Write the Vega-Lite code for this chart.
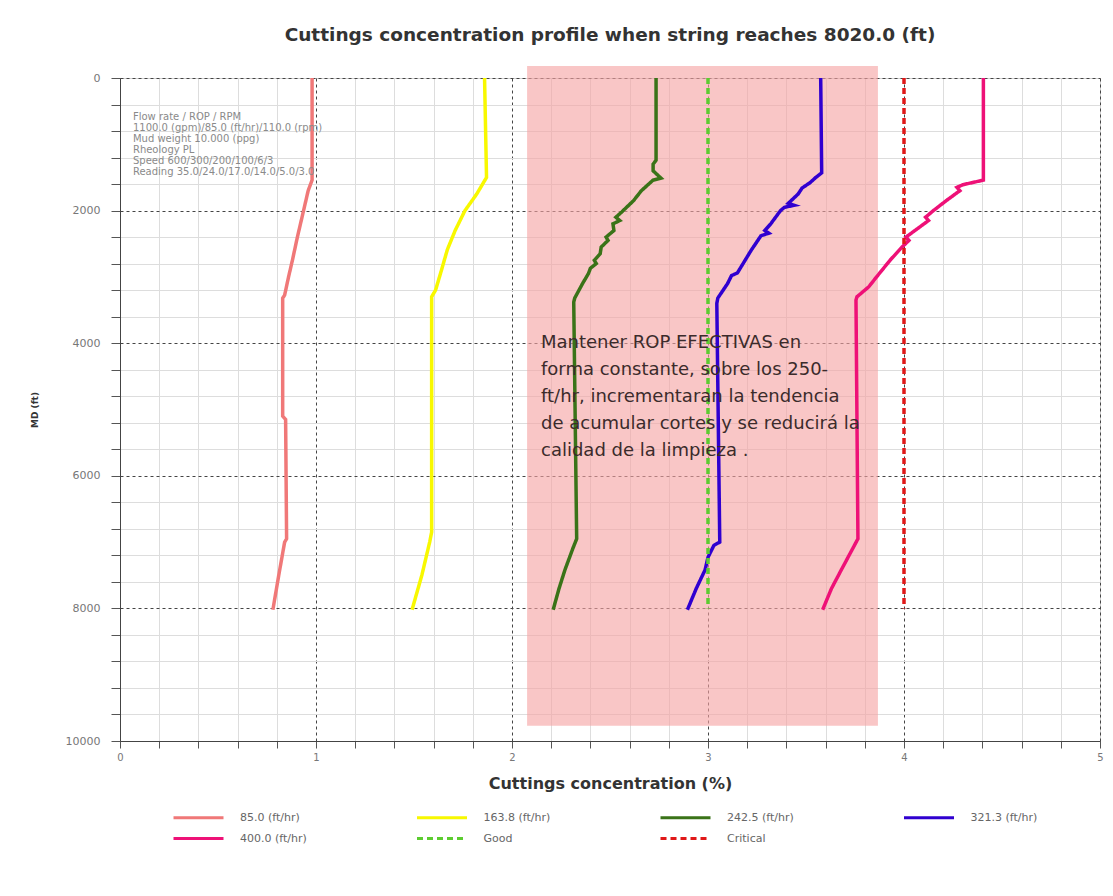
{
  "$schema": "https://vega.github.io/schema/vega-lite/v6.json",
  "autosize": {"type": "none"},
  "padding": {"left": 120, "top": 78, "right": 13, "bottom": 155},
  "width": 980,
  "height": 663,
  "background": "white",
  "title": {"text": "Cuttings concentration profile when string reaches 8020.0 (ft)", "font": "DejaVu Sans", "fontSize": 18.5, "fontWeight": "bold", "color": "#333333", "anchor": "middle", "frame": "group", "offset": 22},
  "config": {
    "view": {"stroke": "#d0d0d0"},
    "legend": {
      "orient": "none", "legendX": 72, "legendY": 733, "columns": 4, "direction": "horizontal",
      "symbolType": "M-5,0H5", "symbolSize": 100, "symbolStrokeWidth": 3,
      "labelFont": "DejaVu Sans", "labelFontSize": 11, "labelColor": "#666666", "labelOffset": 35,
      "columnPadding": 103.5, "rowPadding": 8, "gridAlign": "all", "padding": 0
    }
  },
  "datasets": {
    "curves": [
      {"series": "85.0 (ft/hr)", "md": 0, "c": 0.98},
      {"series": "85.0 (ft/hr)", "md": 1540, "c": 0.98},
      {"series": "85.0 (ft/hr)", "md": 1700, "c": 0.96},
      {"series": "85.0 (ft/hr)", "md": 2020, "c": 0.935},
      {"series": "85.0 (ft/hr)", "md": 2400, "c": 0.905},
      {"series": "85.0 (ft/hr)", "md": 2745, "c": 0.88},
      {"series": "85.0 (ft/hr)", "md": 3000, "c": 0.86},
      {"series": "85.0 (ft/hr)", "md": 3275, "c": 0.84},
      {"series": "85.0 (ft/hr)", "md": 3320, "c": 0.83},
      {"series": "85.0 (ft/hr)", "md": 5100, "c": 0.83},
      {"series": "85.0 (ft/hr)", "md": 5150, "c": 0.845},
      {"series": "85.0 (ft/hr)", "md": 6950, "c": 0.85},
      {"series": "85.0 (ft/hr)", "md": 7000, "c": 0.84},
      {"series": "85.0 (ft/hr)", "md": 7500, "c": 0.81},
      {"series": "85.0 (ft/hr)", "md": 8020, "c": 0.78},

      {"series": "163.8 (ft/hr)", "md": 0, "c": 1.86},
      {"series": "163.8 (ft/hr)", "md": 1500, "c": 1.87},
      {"series": "163.8 (ft/hr)", "md": 1750, "c": 1.82},
      {"series": "163.8 (ft/hr)", "md": 2000, "c": 1.76},
      {"series": "163.8 (ft/hr)", "md": 2300, "c": 1.71},
      {"series": "163.8 (ft/hr)", "md": 2590, "c": 1.67},
      {"series": "163.8 (ft/hr)", "md": 2900, "c": 1.64},
      {"series": "163.8 (ft/hr)", "md": 3200, "c": 1.61},
      {"series": "163.8 (ft/hr)", "md": 3300, "c": 1.59},
      {"series": "163.8 (ft/hr)", "md": 6850, "c": 1.59},
      {"series": "163.8 (ft/hr)", "md": 7000, "c": 1.58},
      {"series": "163.8 (ft/hr)", "md": 7500, "c": 1.54},
      {"series": "163.8 (ft/hr)", "md": 8020, "c": 1.49},

      {"series": "242.5 (ft/hr)", "md": 0, "c": 2.735},
      {"series": "242.5 (ft/hr)", "md": 1240, "c": 2.735},
      {"series": "242.5 (ft/hr)", "md": 1300, "c": 2.72},
      {"series": "242.5 (ft/hr)", "md": 1400, "c": 2.72},
      {"series": "242.5 (ft/hr)", "md": 1510, "c": 2.76},
      {"series": "242.5 (ft/hr)", "md": 1540, "c": 2.72},
      {"series": "242.5 (ft/hr)", "md": 1700, "c": 2.66},
      {"series": "242.5 (ft/hr)", "md": 1850, "c": 2.62},
      {"series": "242.5 (ft/hr)", "md": 2020, "c": 2.56},
      {"series": "242.5 (ft/hr)", "md": 2100, "c": 2.53},
      {"series": "242.5 (ft/hr)", "md": 2150, "c": 2.55},
      {"series": "242.5 (ft/hr)", "md": 2200, "c": 2.515},
      {"series": "242.5 (ft/hr)", "md": 2300, "c": 2.52},
      {"series": "242.5 (ft/hr)", "md": 2400, "c": 2.48},
      {"series": "242.5 (ft/hr)", "md": 2450, "c": 2.49},
      {"series": "242.5 (ft/hr)", "md": 2550, "c": 2.455},
      {"series": "242.5 (ft/hr)", "md": 2650, "c": 2.45},
      {"series": "242.5 (ft/hr)", "md": 2750, "c": 2.42},
      {"series": "242.5 (ft/hr)", "md": 2800, "c": 2.43},
      {"series": "242.5 (ft/hr)", "md": 2870, "c": 2.40},
      {"series": "242.5 (ft/hr)", "md": 2950, "c": 2.39},
      {"series": "242.5 (ft/hr)", "md": 3100, "c": 2.36},
      {"series": "242.5 (ft/hr)", "md": 3320, "c": 2.32},
      {"series": "242.5 (ft/hr)", "md": 3380, "c": 2.315},
      {"series": "242.5 (ft/hr)", "md": 6950, "c": 2.33},
      {"series": "242.5 (ft/hr)", "md": 7100, "c": 2.31},
      {"series": "242.5 (ft/hr)", "md": 7420, "c": 2.27},
      {"series": "242.5 (ft/hr)", "md": 7700, "c": 2.24},
      {"series": "242.5 (ft/hr)", "md": 8020, "c": 2.21},

      {"series": "321.3 (ft/hr)", "md": 0, "c": 3.575},
      {"series": "321.3 (ft/hr)", "md": 1430, "c": 3.58},
      {"series": "321.3 (ft/hr)", "md": 1500, "c": 3.55},
      {"series": "321.3 (ft/hr)", "md": 1580, "c": 3.52},
      {"series": "321.3 (ft/hr)", "md": 1620, "c": 3.50},
      {"series": "321.3 (ft/hr)", "md": 1660, "c": 3.48},
      {"series": "321.3 (ft/hr)", "md": 1750, "c": 3.46},
      {"series": "321.3 (ft/hr)", "md": 1890, "c": 3.41},
      {"series": "321.3 (ft/hr)", "md": 1920, "c": 3.44},
      {"series": "321.3 (ft/hr)", "md": 1950, "c": 3.39},
      {"series": "321.3 (ft/hr)", "md": 2000, "c": 3.37},
      {"series": "321.3 (ft/hr)", "md": 2200, "c": 3.32},
      {"series": "321.3 (ft/hr)", "md": 2300, "c": 3.29},
      {"series": "321.3 (ft/hr)", "md": 2340, "c": 3.31},
      {"series": "321.3 (ft/hr)", "md": 2380, "c": 3.27},
      {"series": "321.3 (ft/hr)", "md": 2600, "c": 3.22},
      {"series": "321.3 (ft/hr)", "md": 2940, "c": 3.15},
      {"series": "321.3 (ft/hr)", "md": 2980, "c": 3.12},
      {"series": "321.3 (ft/hr)", "md": 3100, "c": 3.10},
      {"series": "321.3 (ft/hr)", "md": 3320, "c": 3.05},
      {"series": "321.3 (ft/hr)", "md": 3400, "c": 3.045},
      {"series": "321.3 (ft/hr)", "md": 7000, "c": 3.06},
      {"series": "321.3 (ft/hr)", "md": 7050, "c": 3.03},
      {"series": "321.3 (ft/hr)", "md": 7230, "c": 3.00},
      {"series": "321.3 (ft/hr)", "md": 7420, "c": 2.985},
      {"series": "321.3 (ft/hr)", "md": 7700, "c": 2.94},
      {"series": "321.3 (ft/hr)", "md": 8020, "c": 2.895},

      {"series": "400.0 (ft/hr)", "md": 0, "c": 4.405},
      {"series": "400.0 (ft/hr)", "md": 1540, "c": 4.405},
      {"series": "400.0 (ft/hr)", "md": 1610, "c": 4.30},
      {"series": "400.0 (ft/hr)", "md": 1650, "c": 4.27},
      {"series": "400.0 (ft/hr)", "md": 1700, "c": 4.285},
      {"series": "400.0 (ft/hr)", "md": 1840, "c": 4.22},
      {"series": "400.0 (ft/hr)", "md": 2000, "c": 4.15},
      {"series": "400.0 (ft/hr)", "md": 2100, "c": 4.11},
      {"series": "400.0 (ft/hr)", "md": 2150, "c": 4.125},
      {"series": "400.0 (ft/hr)", "md": 2400, "c": 4.01},
      {"series": "400.0 (ft/hr)", "md": 2450, "c": 4.025},
      {"series": "400.0 (ft/hr)", "md": 2550, "c": 3.99},
      {"series": "400.0 (ft/hr)", "md": 2745, "c": 3.93},
      {"series": "400.0 (ft/hr)", "md": 3000, "c": 3.86},
      {"series": "400.0 (ft/hr)", "md": 3150, "c": 3.82},
      {"series": "400.0 (ft/hr)", "md": 3300, "c": 3.76},
      {"series": "400.0 (ft/hr)", "md": 3350, "c": 3.755},
      {"series": "400.0 (ft/hr)", "md": 6950, "c": 3.765},
      {"series": "400.0 (ft/hr)", "md": 7420, "c": 3.68},
      {"series": "400.0 (ft/hr)", "md": 7700, "c": 3.63},
      {"series": "400.0 (ft/hr)", "md": 8020, "c": 3.585},

      {"series": "Good", "md": 0, "c": 3},
      {"series": "Good", "md": 8000, "c": 3},
      {"series": "Critical", "md": 0, "c": 4},
      {"series": "Critical", "md": 8000, "c": 4}
    ],
    "zone": [{"c": 2.077, "c2": 3.867, "md": -180, "md2": 9770}],
    "note": [
      {"c": 2.148, "md": 4072, "t": ["Mantener ROP EFECTIVAS en", "forma constante, sobre los 250-", "ft/hr, incrementaran la tendencia", "de acumular cortes y se reducirá la", "calidad  de la limpieza ."]}
    ],
    "info": [
      {"c": 0.066, "md": 633, "t": ["Flow rate / ROP / RPM", "1100.0 (gpm)/85.0 (ft/hr)/110.0 (rpm)", "Mud weight 10.000 (ppg)", "Rheology PL", "Speed 600/300/200/100/6/3", "Reading 35.0/24.0/17.0/14.0/5.0/3.0"]}
    ]
  },
  "encoding": {
    "x": {
      "field": "c", "type": "quantitative",
      "scale": {"domain": [0, 5], "nice": false},
      "axis": {
        "values": [0, 0.2, 0.4, 0.6, 0.8, 1, 1.2, 1.4, 1.6, 1.8, 2, 2.2, 2.4, 2.6, 2.8, 3, 3.2, 3.4, 3.6, 3.8, 4, 4.2, 4.4, 4.6, 4.8, 5],
        "tickCount": 100,
        "labelExpr": "datum.value % 1 == 0 ? format(datum.value, 'd') : ''",
        "labelOverlap": false,
        "labelFlush": false,
        "grid": true,
        "gridColor": {"condition": {"test": "datum.value % 1 == 0", "value": "#444444"}, "value": "#dddddd"},
        "gridDash": {"condition": {"test": "datum.value % 1 == 0", "value": [3, 3]}, "value": []},
        "tickSize": 7,
        "tickColor": "#555555",
        "domainColor": "#444444",
        "labelFont": "DejaVu Sans", "labelFontSize": 10, "labelColor": "#777777", "labelPadding": 4,
        "title": "Cuttings concentration (%)", "titleFont": "DejaVu Sans", "titleFontWeight": "bold", "titleFontSize": 16, "titleColor": "#333333", "titlePadding": 13
      }
    },
    "y": {
      "field": "md", "type": "quantitative",
      "scale": {"domain": [0, 10000], "nice": false, "reverse": true},
      "axis": {
        "values": [0, 400, 800, 1200, 1600, 2000, 2400, 2800, 3200, 3600, 4000, 4400, 4800, 5200, 5600, 6000, 6400, 6800, 7200, 7600, 8000, 8400, 8800, 9200, 9600, 10000],
        "tickCount": 100,
        "labelExpr": "datum.value % 2000 == 0 ? format(datum.value, 'd') : ''",
        "labelOverlap": false,
        "labelFlush": false,
        "grid": true,
        "gridColor": {"condition": {"test": "datum.value % 2000 == 0", "value": "#444444"}, "value": "#dddddd"},
        "gridDash": {"condition": {"test": "datum.value % 2000 == 0", "value": [3, 3]}, "value": []},
        "tickSize": 9,
        "tickColor": "#555555",
        "domainColor": "#444444",
        "labelFont": "DejaVu Sans", "labelFontSize": 11, "labelColor": "#777777", "labelPadding": 11,
        "title": "MD (ft)", "titleFont": "DejaVu Sans", "titleFontWeight": "bold", "titleFontSize": 9, "titleColor": "#333333", "titlePadding": 26
      }
    }
  },
  "layer": [
    {
      "data": {"name": "zone"},
      "mark": {"type": "rect", "fill": "#f5a3a3", "opacity": 0.62},
      "encoding": {
        "x2": {"field": "c2"},
        "y2": {"field": "md2"}
      }
    },
    {
      "data": {"name": "curves"},
      "mark": {"type": "line", "strokeWidth": 3.5},
      "encoding": {
        "order": {"field": "md", "type": "quantitative"},
        "color": {
          "field": "series", "type": "nominal",
          "scale": {
            "domain": ["85.0 (ft/hr)", "163.8 (ft/hr)", "242.5 (ft/hr)", "321.3 (ft/hr)", "400.0 (ft/hr)", "Good", "Critical"],
            "range": ["#f07878", "#f8f800", "#3a7318", "#3000d0", "#ee1177", "#5ccc30", "#e01818"]
          },
          "legend": {"title": null}
        },
        "strokeDash": {
          "field": "series", "type": "nominal",
          "scale": {
            "domain": ["85.0 (ft/hr)", "163.8 (ft/hr)", "242.5 (ft/hr)", "321.3 (ft/hr)", "400.0 (ft/hr)", "Good", "Critical"],
            "range": [[1, 0], [1, 0], [1, 0], [1, 0], [1, 0], [6, 4], [6, 4]]
          },
          "legend": {"title": null}
        }
      }
    },
    {
      "data": {"name": "note"},
      "mark": {"type": "text", "font": "DejaVu Sans", "fontSize": 18, "lineHeight": 27, "color": "#3b2b2b", "align": "left", "baseline": "alphabetic"},
      "encoding": {
        "text": {"field": "t"}
      }
    },
    {
      "data": {"name": "info"},
      "mark": {"type": "text", "font": "DejaVu Sans", "fontSize": 10, "lineHeight": 11, "color": "#8a8a8a", "align": "left", "baseline": "alphabetic"},
      "encoding": {
        "text": {"field": "t"}
      }
    }
  ]
}
